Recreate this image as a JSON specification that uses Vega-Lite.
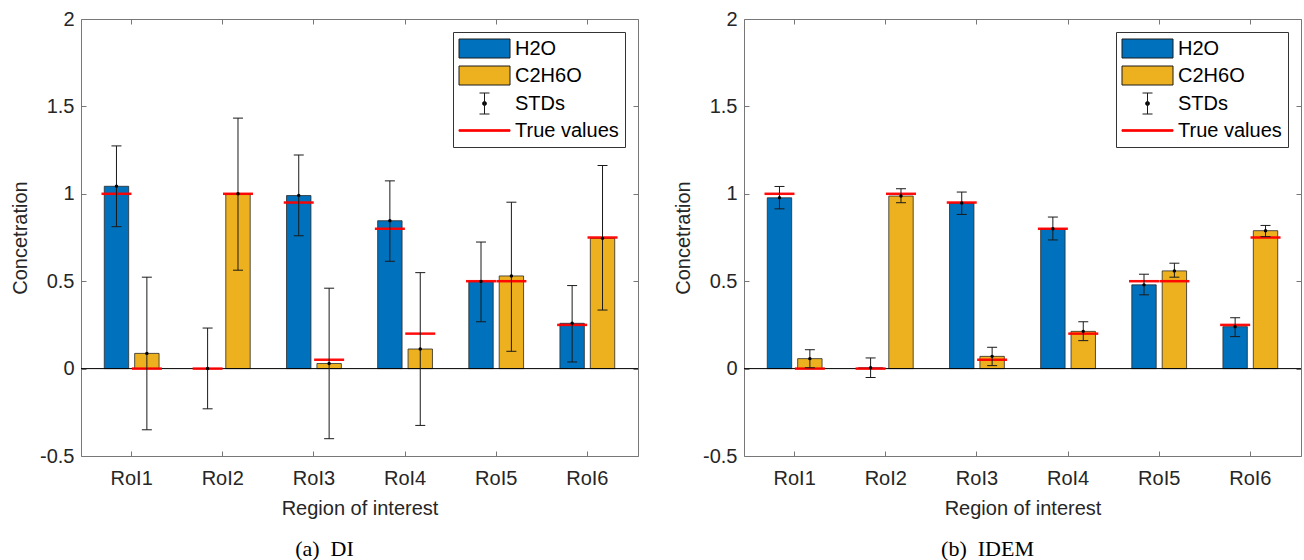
{
  "$schema": "https://vega.github.io/schema/vega-lite/v6.json",
  "background": "white",
  "padding": {"left": 10, "top": 8, "right": 0, "bottom": 0},
  "datasets": {
    "di": [
      {"roi": "RoI1", "series": "H2O", "mean": 1.043, "lo": 0.812, "hi": 1.274, "truth": 1.0},
      {"roi": "RoI1", "series": "C2H6O", "mean": 0.087, "lo": -0.35, "hi": 0.523, "truth": 0.0},
      {"roi": "RoI2", "series": "H2O", "mean": 0.0, "lo": -0.23, "hi": 0.232, "truth": 0.0},
      {"roi": "RoI2", "series": "C2H6O", "mean": 1.0, "lo": 0.563, "hi": 1.433, "truth": 1.0},
      {"roi": "RoI3", "series": "H2O", "mean": 0.99, "lo": 0.76, "hi": 1.222, "truth": 0.95},
      {"roi": "RoI3", "series": "C2H6O", "mean": 0.029, "lo": -0.401, "hi": 0.46, "truth": 0.05},
      {"roi": "RoI4", "series": "H2O", "mean": 0.846, "lo": 0.614, "hi": 1.074, "truth": 0.8},
      {"roi": "RoI4", "series": "C2H6O", "mean": 0.112, "lo": -0.325, "hi": 0.549, "truth": 0.2},
      {"roi": "RoI5", "series": "H2O", "mean": 0.499, "lo": 0.268, "hi": 0.724, "truth": 0.5},
      {"roi": "RoI5", "series": "C2H6O", "mean": 0.53, "lo": 0.099, "hi": 0.952, "truth": 0.5},
      {"roi": "RoI6", "series": "H2O", "mean": 0.259, "lo": 0.038, "hi": 0.475, "truth": 0.25},
      {"roi": "RoI6", "series": "C2H6O", "mean": 0.745, "lo": 0.335, "hi": 1.162, "truth": 0.75}
    ],
    "idem": [
      {"roi": "RoI1", "series": "H2O", "mean": 0.977, "lo": 0.914, "hi": 1.042, "truth": 1.0},
      {"roi": "RoI1", "series": "C2H6O", "mean": 0.057, "lo": 0.005, "hi": 0.108, "truth": 0.0},
      {"roi": "RoI2", "series": "H2O", "mean": 0.005, "lo": -0.051, "hi": 0.061, "truth": 0.0},
      {"roi": "RoI2", "series": "C2H6O", "mean": 0.987, "lo": 0.949, "hi": 1.029, "truth": 1.0},
      {"roi": "RoI3", "series": "H2O", "mean": 0.947, "lo": 0.882, "hi": 1.01, "truth": 0.95},
      {"roi": "RoI3", "series": "C2H6O", "mean": 0.07, "lo": 0.017, "hi": 0.122, "truth": 0.05},
      {"roi": "RoI4", "series": "H2O", "mean": 0.8, "lo": 0.736, "hi": 0.867, "truth": 0.8},
      {"roi": "RoI4", "series": "C2H6O", "mean": 0.213, "lo": 0.16, "hi": 0.268, "truth": 0.2},
      {"roi": "RoI5", "series": "H2O", "mean": 0.479, "lo": 0.422, "hi": 0.54, "truth": 0.5},
      {"roi": "RoI5", "series": "C2H6O", "mean": 0.559, "lo": 0.523, "hi": 0.603, "truth": 0.5},
      {"roi": "RoI6", "series": "H2O", "mean": 0.24, "lo": 0.183, "hi": 0.291, "truth": 0.25},
      {"roi": "RoI6", "series": "C2H6O", "mean": 0.789, "lo": 0.755, "hi": 0.819, "truth": 0.75}
    ],
    "keys": [
      {"series": "H2O"}, {"series": "C2H6O"}, {"series": "STDs"}, {"series": "True values"}
    ]
  },
  "hconcat": [
    {
      "width": 557, "height": 437,
      "title": {"text": "(a)\u00a0 DI", "orient": "bottom", "font": "Liberation Serif", "fontSize": 22, "fontWeight": "normal", "color": "#000", "anchor": "middle", "frame": "bounds", "offset": 21},
      "data": {"name": "di"},
      "resolve": {"axis": {"x": "independent", "y": "independent"}},
      "layer": [
        {"mark": {"type": "bar", "stroke": "#2a2a2a", "strokeWidth": 0.8},
         "encoding": {
           "x": {"field": "roi", "type": "nominal", "scale": {"domain": ["RoI1","RoI2","RoI3","RoI4","RoI5","RoI6"], "paddingInner": 0, "paddingOuter": 0.056}, "axis": {"orient": "bottom", "title": "Region of interest", "labelAngle": 0, "labelPadding": 17, "titlePadding": 10}},
           "xOffset": {"field": "series", "type": "nominal", "scale": {"domain": ["H2O","C2H6O"], "paddingInner": 0.197, "paddingOuter": 0.598}},
           "y": {"field": "mean", "type": "quantitative", "scale": {"domain": [-0.5, 2], "nice": false, "zero": false}, "axis": {"orient": "left", "title": "Concetration", "values": [-0.5, 0, 0.5, 1, 1.5, 2], "labelExpr": "'' + datum.value", "labelPadding": 12, "titlePadding": 9}},
           "fill": {"field": "series", "type": "nominal", "scale": {"domain": ["H2O","C2H6O","STDs","True values"], "range": ["#0072BD","#EDB120","#000000","#FF0000"]}, "legend": {"title": null}}
         }},
        {"data": {"name": "keys"}, "mark": {"type": "point", "filled": true, "opacity": 0},
         "encoding": {
           "fill": {"field": "series", "type": "nominal", "legend": {"title": null}},
           "stroke": {"field": "series", "type": "nominal", "scale": {"domain": ["H2O","C2H6O","STDs","True values"], "range": ["#1a1a1a","#1a1a1a","#1a1a1a","#FF0000"]}, "legend": {"title": null}},
           "shape": {"field": "series", "type": "nominal", "scale": {"domain": ["H2O","C2H6O","STDs","True values"], "range": ["M-1.05,-0.95H4.05V0.95H-1.05Z", "M-1.05,-0.95H4.05V0.95H-1.05Z", "M1,-1.05H2M1.5,-1.05V1.05M1,1.05H2M1.7,0A0.2,0.2 0 1,1 1.3,0A0.2,0.2 0 1,1 1.7,0Z", "M-1.05,-0.08H4.05V0.08H-1.05Z"]}, "legend": {"title": null}}
         }},
        {"data": {"values": [{}]}, "mark": {"type": "rule", "color": "#000", "strokeWidth": 1},
         "encoding": {"y": {"datum": 0, "type": "quantitative", "axis": {"orient": "right", "title": null, "labels": false, "values": [-0.5, 0, 0.5, 1, 1.5, 2]}}}},
        {"mark": {"type": "tick", "color": "#FF0000", "size": 30, "thickness": 2.5, "opacity": 0.95},
         "encoding": {"x": {"field": "roi", "type": "nominal", "axis": null}, "xOffset": {"field": "series", "type": "nominal"}, "y": {"field": "truth", "type": "quantitative", "axis": null}}},
        {"mark": {"type": "rule", "color": "#1a1a1a", "strokeWidth": 1},
         "encoding": {"x": {"field": "roi", "type": "nominal", "axis": {"orient": "top", "title": null, "labels": false}}, "xOffset": {"field": "series", "type": "nominal"}, "y": {"field": "lo", "type": "quantitative", "axis": null}, "y2": {"field": "hi"}}},
        {"mark": {"type": "tick", "color": "#1a1a1a", "size": 10, "thickness": 1, "opacity": 1},
         "encoding": {"x": {"field": "roi", "type": "nominal", "axis": null}, "xOffset": {"field": "series", "type": "nominal"}, "y": {"field": "lo", "type": "quantitative", "axis": null}}},
        {"mark": {"type": "tick", "color": "#1a1a1a", "size": 10, "thickness": 1, "opacity": 1},
         "encoding": {"x": {"field": "roi", "type": "nominal", "axis": null}, "xOffset": {"field": "series", "type": "nominal"}, "y": {"field": "hi", "type": "quantitative", "axis": null}}},
        {"mark": {"type": "point", "filled": true, "color": "#000", "size": 12, "opacity": 1},
         "encoding": {"x": {"field": "roi", "type": "nominal", "axis": null}, "xOffset": {"field": "series", "type": "nominal"}, "y": {"field": "mean", "type": "quantitative", "axis": null}}}
      ]
    },
    {
      "width": 557, "height": 437,
      "title": {"text": "(b)\u00a0 IDEM", "orient": "bottom", "font": "Liberation Serif", "fontSize": 22, "fontWeight": "normal", "color": "#000", "anchor": "middle", "frame": "bounds", "offset": 21},
      "data": {"name": "idem"},
      "resolve": {"axis": {"x": "independent", "y": "independent"}},
      "layer": [
        {"mark": {"type": "bar", "stroke": "#2a2a2a", "strokeWidth": 0.8},
         "encoding": {
           "x": {"field": "roi", "type": "nominal", "scale": {"domain": ["RoI1","RoI2","RoI3","RoI4","RoI5","RoI6"], "paddingInner": 0, "paddingOuter": 0.056}, "axis": {"orient": "bottom", "title": "Region of interest", "labelAngle": 0, "labelPadding": 17, "titlePadding": 10}},
           "xOffset": {"field": "series", "type": "nominal", "scale": {"domain": ["H2O","C2H6O"], "paddingInner": 0.197, "paddingOuter": 0.598}},
           "y": {"field": "mean", "type": "quantitative", "scale": {"domain": [-0.5, 2], "nice": false, "zero": false}, "axis": {"orient": "left", "title": "Concetration", "values": [-0.5, 0, 0.5, 1, 1.5, 2], "labelExpr": "'' + datum.value", "labelPadding": 12, "titlePadding": 9}},
           "fill": {"field": "series", "type": "nominal", "scale": {"domain": ["H2O","C2H6O","STDs","True values"], "range": ["#0072BD","#EDB120","#000000","#FF0000"]}, "legend": {"title": null}}
         }},
        {"data": {"name": "keys"}, "mark": {"type": "point", "filled": true, "opacity": 0},
         "encoding": {
           "fill": {"field": "series", "type": "nominal", "legend": {"title": null}},
           "stroke": {"field": "series", "type": "nominal", "scale": {"domain": ["H2O","C2H6O","STDs","True values"], "range": ["#1a1a1a","#1a1a1a","#1a1a1a","#FF0000"]}, "legend": {"title": null}},
           "shape": {"field": "series", "type": "nominal", "scale": {"domain": ["H2O","C2H6O","STDs","True values"], "range": ["M-1.05,-0.95H4.05V0.95H-1.05Z", "M-1.05,-0.95H4.05V0.95H-1.05Z", "M1,-1.05H2M1.5,-1.05V1.05M1,1.05H2M1.7,0A0.2,0.2 0 1,1 1.3,0A0.2,0.2 0 1,1 1.7,0Z", "M-1.05,-0.08H4.05V0.08H-1.05Z"]}, "legend": {"title": null}}
         }},
        {"data": {"values": [{}]}, "mark": {"type": "rule", "color": "#000", "strokeWidth": 1},
         "encoding": {"y": {"datum": 0, "type": "quantitative", "axis": {"orient": "right", "title": null, "labels": false, "values": [-0.5, 0, 0.5, 1, 1.5, 2]}}}},
        {"mark": {"type": "tick", "color": "#FF0000", "size": 30, "thickness": 2.5, "opacity": 0.95},
         "encoding": {"x": {"field": "roi", "type": "nominal", "axis": null}, "xOffset": {"field": "series", "type": "nominal"}, "y": {"field": "truth", "type": "quantitative", "axis": null}}},
        {"mark": {"type": "rule", "color": "#1a1a1a", "strokeWidth": 1},
         "encoding": {"x": {"field": "roi", "type": "nominal", "axis": {"orient": "top", "title": null, "labels": false}}, "xOffset": {"field": "series", "type": "nominal"}, "y": {"field": "lo", "type": "quantitative", "axis": null}, "y2": {"field": "hi"}}},
        {"mark": {"type": "tick", "color": "#1a1a1a", "size": 10, "thickness": 1, "opacity": 1},
         "encoding": {"x": {"field": "roi", "type": "nominal", "axis": null}, "xOffset": {"field": "series", "type": "nominal"}, "y": {"field": "lo", "type": "quantitative", "axis": null}}},
        {"mark": {"type": "tick", "color": "#1a1a1a", "size": 10, "thickness": 1, "opacity": 1},
         "encoding": {"x": {"field": "roi", "type": "nominal", "axis": null}, "xOffset": {"field": "series", "type": "nominal"}, "y": {"field": "hi", "type": "quantitative", "axis": null}}},
        {"mark": {"type": "point", "filled": true, "color": "#000", "size": 12, "opacity": 1},
         "encoding": {"x": {"field": "roi", "type": "nominal", "axis": null}, "xOffset": {"field": "series", "type": "nominal"}, "y": {"field": "mean", "type": "quantitative", "axis": null}}}
      ]
    }
  ],
  "spacing": 34,
  "resolve": {
    "scale": {"fill": "independent", "stroke": "independent", "shape": "independent", "xOffset": "independent"},
    "legend": {"fill": "independent", "stroke": "independent", "shape": "independent"}
  },
  "config": {
    "font": "Liberation Sans",
    "view": {"stroke": "#777", "strokeWidth": 1},
    "axis": {"labelFont": "Liberation Sans", "labelFontSize": 20, "labelColor": "#262626", "titleFont": "Liberation Sans", "titleFontSize": 20, "titleFontWeight": "normal", "titleColor": "#262626", "domain": false, "grid": false, "tickColor": "#777", "tickSize": -5, "ticks": true},
    "legend": {"orient": "top-right", "offset": 13, "padding": 6, "strokeColor": "#333", "fillColor": "#fff", "symbolSize": 400, "symbolStrokeWidth": 1, "symbolOpacity": 1, "labelFont": "Liberation Sans", "labelFontSize": 20, "labelColor": "#000", "labelOffset": 35, "rowPadding": 4, "labelLimit": 300}
  }
}
